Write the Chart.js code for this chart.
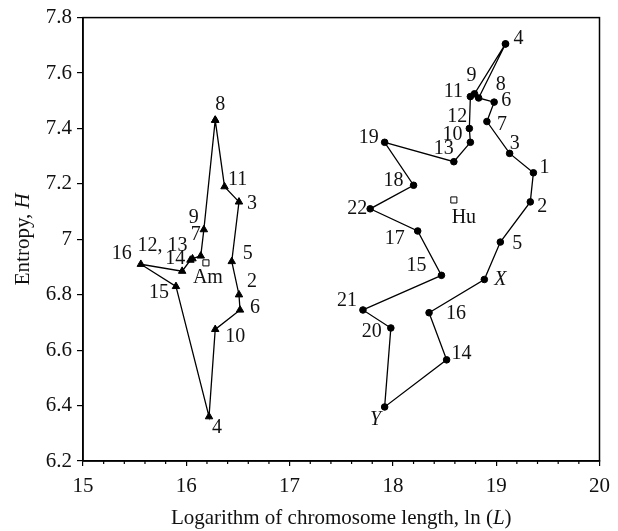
<!DOCTYPE html>
<html>
<head>
<meta charset="utf-8">
<script src="https://cdn.jsdelivr.net/npm/chart.js@4/dist/chart.umd.min.js"></script>
<style>
  body { margin: 0; background: #fff; }
  #box { width: 618px; height: 531px; }
</style>
</head>
<body>
<div id="box"><canvas id="grafico" width="618" height="531"></canvas></div>
<script>
// dati Am (triangoli), ordine del percorso chiuso
amNomi = ['8','11','3','5','2','6','10','4','15','16','14','12','13','7','9']
amX = [16.28, 16.37, 16.51, 16.44, 16.51, 16.52, 16.28, 16.22, 15.90, 15.56, 15.96, 16.04, 16.06, 16.14, 16.17]
amY = [7.43, 7.19, 7.135, 6.92, 6.80, 6.745, 6.675, 6.36, 6.83, 6.91, 6.885, 6.925, 6.93, 6.94, 7.035]

// dati Hu (cerchi), ordine del percorso chiuso
huNomi = ['4','8','6','7','3','1','2','5','X','16','14','Y','20','21','15','17','22','18','19','13','10','12','11','9']
huX = [19.09, 18.83, 18.98, 18.91, 19.13, 19.36, 19.33, 19.04, 18.885, 18.35, 18.52, 17.92, 17.98, 17.71, 18.47, 18.24, 17.78, 18.20, 17.92, 18.59, 18.75, 18.74, 18.75, 18.79]
huY = [7.705, 7.51, 7.495, 7.425, 7.31, 7.24, 7.135, 6.99, 6.855, 6.735, 6.565, 6.395, 6.68, 6.745, 6.87, 7.03, 7.11, 7.195, 7.35, 7.28, 7.35, 7.40, 7.515, 7.525]

// centri (quadrati vuoti)
centriNomi = ['Am', 'Hu']
centriX = [16.19, 18.59]
centriY = [6.915, 7.142]

// tick assi
xTicks = [15, 16, 17, 18, 19, 20]
yTicks = [6.2, 6.4, 6.6, 6.8, 7, 7.2, 7.4, 7.6, 7.8]

// testo etichette uniti
testoUnito = {'12': '12, 13', '13': ''}

// spostamento etichette in pixel (solo posizione)
amSpost = [[5,-15],[13,-7],[13,2],[16,-8],[13,-13],[15,-2],[20,7],[8,11],[-17,6],[-19,-10],[-7,-12],[-28,-14],[0,0],[-5,-21],[-10,-12]]
huSpost = [[13,-5],[22,-13],[12,-1],[15,3],[5,-10],[11,-5],[12,5],[17,2],[16,0],[27,1],[15,-6],[-9,13],[-19,4],[-16,-9],[-25,-10],[-23,8],[-13,0],[-20,-5],[-16,-5],[-10,-13],[-18,-8],[-12,-12],[-17,-5],[-3,-18]]
centriSpost = [[2,15],[10,18]]

FONT = 'Liberation Serif'
SIZE = 20      // etichette punti
SIZE_T = 21    // tick
SIZE_A = 21    // titoli assi

function punti(xs, ys, chiudi){
    p = []
    for(i=0;i<xs.length;i++){
        p.push({x: xs[i], y: ys[i]})
    }
    if(chiudi) p.push({x: xs[0], y: ys[0]})
    return p
}

//etichette vicino ai punti
const etichette = {
    id: 'etichette',
    afterDatasetsDraw(chart){
        const ctx = chart.ctx
        const gruppi = [[0, amNomi, amSpost], [1, huNomi, huSpost], [2, centriNomi, centriSpost]]
        ctx.save()
        ctx.fillStyle = '#111'
        ctx.textAlign = 'center'
        ctx.textBaseline = 'middle'
        gruppi.forEach(g => {
            const meta = chart.getDatasetMeta(g[0])
            for(let i=0;i<g[1].length;i++){
                let t = g[1][i]
                if(g[0] == 0 && testoUnito[t] !== undefined) t = testoUnito[t]
                if(t === '') continue
                const el = meta.data[i]
                ctx.font = ((t == 'X' || t == 'Y') ? 'italic ' : '') + SIZE + 'px "' + FONT + '"'
                ctx.fillText(t, el.x + g[2][i][0], el.y + g[2][i][1])
            }
        })
        ctx.restore()
    }
}

//cornice, tick minori e titoli degli assi
const cornice = {
    id: 'cornice',
    afterDraw(chart){
        const ctx = chart.ctx
        const a = chart.chartArea
        const sx = chart.scales.x
        ctx.save()
        ctx.strokeStyle = '#000'
        ctx.lineWidth = 1.5
        ctx.strokeRect(a.left, a.top, a.right - a.left, a.bottom - a.top)
        ctx.lineWidth = 1.2
        ctx.beginPath()
        for(let k=0;k<=25;k++){
            if(k % 5 == 0) continue
            const px = sx.getPixelForValue(15 + k*0.2)
            ctx.moveTo(px, a.bottom)
            ctx.lineTo(px, a.bottom + 3)
        }
        ctx.stroke()

        ctx.fillStyle = '#111'
        ctx.textBaseline = 'middle'
        const norm = SIZE_A + 'px "' + FONT + '"'
        const ital = 'italic ' + SIZE_A + 'px "' + FONT + '"'
        // titolo asse x
        const n1 = 'Logarithm of chromosome length, ln ('
        const n2 = 'L'
        const n3 = ')'
        ctx.font = norm
        const w1 = ctx.measureText(n1).width
        const w3 = ctx.measureText(n3).width
        ctx.font = ital
        const w2 = ctx.measureText(n2).width
        let x0 = (a.left + a.right)/2 - (w1+w2+w3)/2
        const yT = 518
        ctx.textAlign = 'left'
        ctx.font = norm
        ctx.fillText(n1, x0, yT)
        ctx.font = ital
        ctx.fillText(n2, x0 + w1, yT)
        ctx.font = norm
        ctx.fillText(n3, x0 + w1 + w2, yT)

        // titolo asse y
        ctx.translate(23, (a.top + a.bottom)/2)
        ctx.rotate(-Math.PI/2)
        const m1 = 'Entropy, '
        const m2 = 'H'
        ctx.font = norm
        const v1 = ctx.measureText(m1).width
        ctx.font = ital
        const v2 = ctx.measureText(m2).width
        x0 = -(v1+v2)/2
        ctx.font = norm
        ctx.fillText(m1, x0, 0)
        ctx.font = ital
        ctx.fillText(m2, x0 + v1, 0)
        ctx.restore()
    }
}

const ctx = document.getElementById('grafico').getContext('2d')
const grafico = new Chart(ctx, {
    type: 'scatter',
    data: {
        datasets: [{
            label: 'Am',
            data: punti(amX, amY, true),
            showLine: true,
            borderColor: '#000',
            borderWidth: 1.3,
            pointStyle: 'triangle',
            pointRadius: 4.3,
            pointBackgroundColor: '#000',
            pointBorderColor: '#000',
            pointBorderWidth: 1
        }, {
            label: 'Hu',
            data: punti(huX, huY, true),
            showLine: true,
            borderColor: '#000',
            borderWidth: 1.3,
            pointStyle: 'circle',
            pointRadius: 3.3,
            pointBackgroundColor: '#000',
            pointBorderColor: '#000',
            pointBorderWidth: 1
        }, {
            label: 'centri',
            data: punti(centriX, centriY, false),
            showLine: false,
            pointStyle: 'rect',
            pointRadius: 4.3,
            pointBackgroundColor: '#fff',
            pointBorderColor: '#000',
            pointBorderWidth: 1
        }]
    },
    options: {
        responsive: false,
        animation: false,
        devicePixelRatio: 1,
        layout: { padding: { top: 16, right: 11, left: 0, bottom: 0 } },
        plugins: { legend: { display: false }, tooltip: { enabled: false } },
        scales: {
            x: {
                type: 'linear',
                min: 15,
                max: 20,
                afterFit: s => { s.height = 70 },
                afterBuildTicks: s => { s.ticks = xTicks.map(v => ({value: v})) },
                grid: { drawOnChartArea: false, drawTicks: true, tickLength: 5, color: '#000', lineWidth: 1.2 },
                border: { display: true, color: '#000', width: 1.5 },
                ticks: { color: '#111', padding: 8, maxRotation: 0, font: { family: FONT, size: SIZE_T } }
            },
            y: {
                type: 'linear',
                min: 6.2,
                max: 7.8,
                afterFit: s => { s.width = 83 },
                afterBuildTicks: s => { s.ticks = yTicks.map(v => ({value: v})) },
                grid: { drawOnChartArea: false, drawTicks: true, tickLength: 6, color: '#000', lineWidth: 1.2 },
                border: { display: true, color: '#000', width: 1.5 },
                ticks: { color: '#111', padding: 5, font: { family: FONT, size: SIZE_T },
                    callback: v => String(+v.toFixed(1)) }
            }
        }
    },
    plugins: [etichette, cornice]
})
</script>
</body>
</html>
